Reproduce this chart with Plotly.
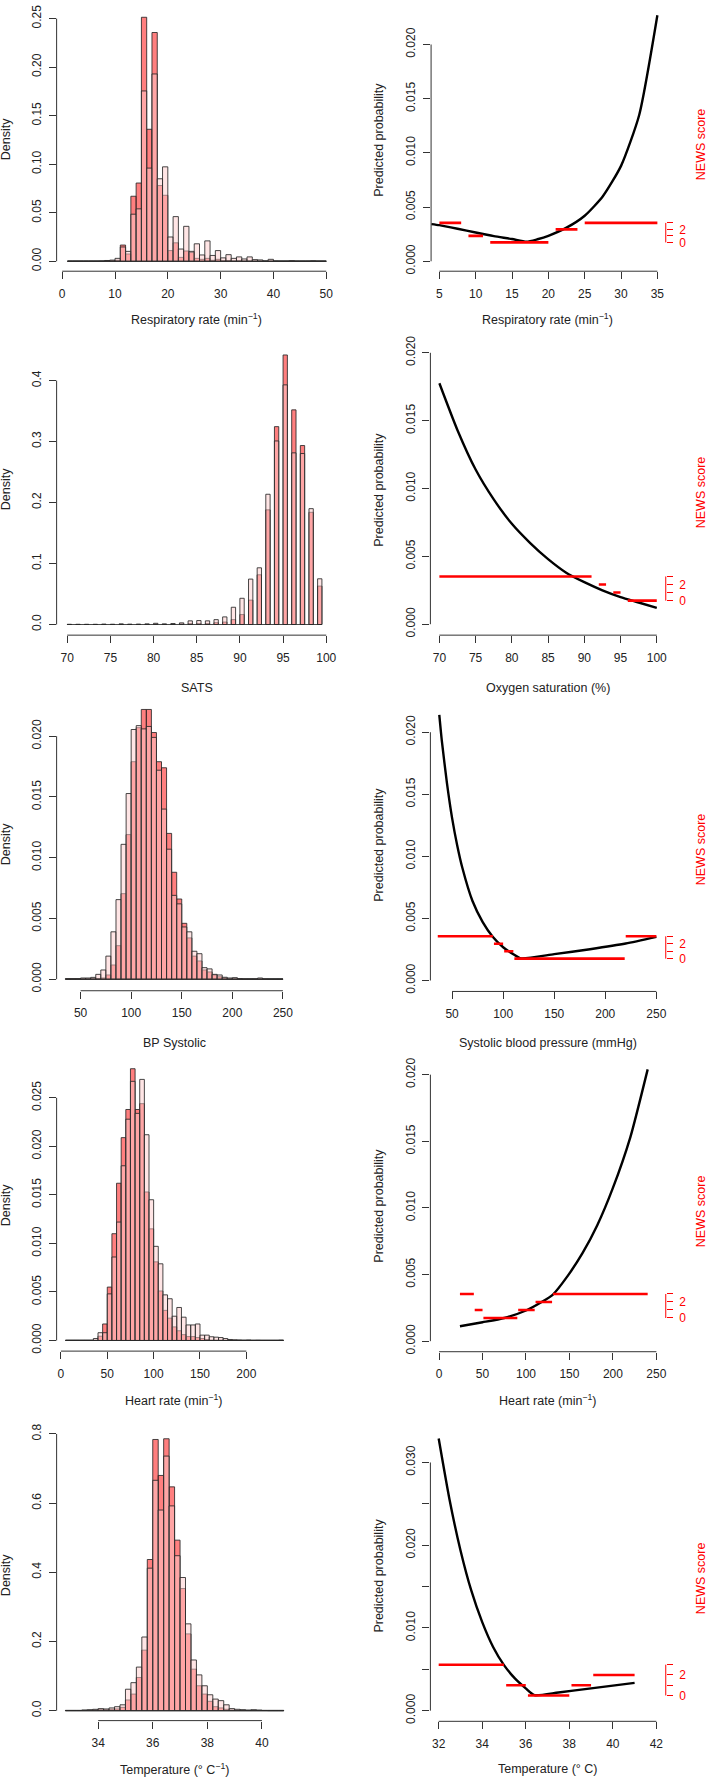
import plotly.graph_objects as go

W, H = 709, 1781

# ======================= DATA =======================
# --- Histograms (density); pale = first group, red = second group ---
RR_START, RR_W = 1, 1
RR_PALE = [0.0002, 0.0002, 0.0002, 0.0002, 0.0002, 0.0002, 0.0003, 0.0008, 0.0012, 0.003,
           0.0147, 0.0102, 0.0485, 0.054, 0.1755, 0.096, 0.193, 0.085, 0.0973, 0.025,
           0.046, 0.0126, 0.036, 0.0102, 0.018, 0.0065, 0.021, 0.006, 0.011, 0.0035,
           0.0068, 0.003, 0.0045, 0.0024, 0.0045, 0.0017, 0.0014, 0.0003, 0.002, 0.0003,
           0.0002, 0.0002, 0.0006, 0.0002, 0.0002, 0.0002, 0.0005, 0.0002, 0.0002]
RR_RED = [0.0001, 0.0001, 0.0001, 0.0001, 0.0001, 0.0001, 0.0001, 0.0003, 0.0006, 0.001,
          0.0167, 0.0075, 0.067, 0.0806, 0.2514, 0.136, 0.2357, 0.078, 0.068, 0.011,
          0.019, 0.004, 0.0106, 0.009, 0.003, 0.002, 0.003, 0.001, 0.002, 0.0005,
          0.0008, 0.0003, 0.0005, 0.0002, 0.0003, 0.0002, 0.0001, 0.0001, 0.0002, 0.0001,
          0.0001, 0.0001, 0.0001, 0.0001, 0.0001, 0.0001, 0.0001, 0.0001, 0.0001]

SATS_START, SATS_W = 70.5, 1   # bars cover (v-0.5, v] for v = 71..100
SATS_BAR_W = 0.5
SATS_PALE = [0.0003, 0.0003, 0.0003, 0.0003, 0.0006, 0.0004, 0.001, 0.0005, 0.0006, 0.001,
             0.002, 0.001, 0.0016, 0.0027, 0.006, 0.0065, 0.006, 0.008, 0.0125, 0.0283,
             0.043, 0.0745, 0.093, 0.2136, 0.301, 0.393, 0.2815, 0.2804, 0.19, 0.075]
SATS_RED = [0.0001, 0.0001, 0.0001, 0.0001, 0.0002, 0.0001, 0.0003, 0.0002, 0.0002, 0.0003,
            0.0005, 0.0003, 0.0005, 0.001, 0.0015, 0.0015, 0.0015, 0.003, 0.004, 0.008,
            0.0163, 0.040, 0.0815, 0.188, 0.3245, 0.442, 0.352, 0.2935, 0.184, 0.063]

SBP_START, SBP_W = 35, 5
SBP_PALE = [0.00005, 0.00005, 0.00005, 0.0001, 0.0001, 0.00015, 0.0004, 0.00076, 0.0019, 0.0039,
            0.00655, 0.0111, 0.01528, 0.02055, 0.02087, 0.0206, 0.0208, 0.0199, 0.0172, 0.014,
            0.0107, 0.0069, 0.0062, 0.0043, 0.0039, 0.0023, 0.0021, 0.00095, 0.00085, 0.0004,
            0.00035, 0.00016, 0.0001, 0.00013, 0.00005, 0.00003, 0.00003, 0.00003, 0.0001, 0.00003,
            0.00002, 0.00002, 0.00002]
SBP_RED = [0.00002, 0.00002, 0.00002, 0.00003, 0.00003, 0.00004, 0.00005, 0.0001, 0.00035, 0.00117,
           0.00276, 0.00704, 0.0119, 0.0179, 0.0207, 0.0222, 0.0222, 0.0203, 0.0179, 0.0174,
           0.012, 0.0088, 0.0066, 0.0046, 0.0034, 0.0019, 0.0015, 0.00076, 0.0006, 0.00035,
           0.0002, 0.0001, 0.00003, 0.00003, 0.00002, 0.00002, 0.00002, 0.00002, 0.00002, 0.00002,
           0.00002, 0.00002, 0.00002]

HR_START, HR_W = 5, 5
HR_PALE = [0.00003, 0.00003, 0.00003, 0.00003, 0.00003, 0.00003, 0.0002, 0.0008, 0.0008, 0.0048,
           0.0086, 0.0122, 0.018, 0.0228, 0.0267, 0.0234, 0.0269, 0.0212, 0.0145, 0.0097,
           0.0079, 0.0047, 0.0043, 0.0025, 0.0034, 0.0024, 0.0016, 0.0016, 0.0017, 0.00055,
           0.00055, 0.00038, 0.00034, 0.0003, 0.0002, 0.0001, 0.00007, 0.00005, 0.00003, 0.00005,
           0.00002, 0.00003, 0.00002, 0.00002, 0.00002, 0.00002, 0.00004]
HR_RED = [0.00002, 0.00002, 0.00002, 0.00002, 0.00002, 0.00002, 0.00002, 0.00044, 0.0017, 0.0055,
          0.011, 0.0162, 0.0209, 0.0238, 0.028, 0.0238, 0.0244, 0.0153, 0.0115, 0.0081,
          0.0051, 0.0031, 0.0023, 0.0014, 0.001, 0.0006, 0.0004, 0.0004, 0.0003, 0.0002,
          0.0001, 0.00003, 0.00003, 0.00003, 0.00002, 0.00002, 0.00002, 0.00002, 0.00002, 0.00002,
          0.00002, 0.00002, 0.00002, 0.00002, 0.00002, 0.00002, 0.00002]

TEMP_START, TEMP_W = 32.8, 0.2
TEMP_PALE = [0.001, 0.001, 0.001, 0.002, 0.003, 0.004, 0.006, 0.005, 0.008, 0.0115,
             0.017, 0.062, 0.081, 0.126, 0.213, 0.412, 0.666, 0.58, 0.736, 0.592,
             0.448, 0.385, 0.251, 0.1466, 0.1035, 0.072, 0.046, 0.0335, 0.029, 0.017,
             0.006, 0.004, 0.003, 0.002, 0.003, 0.002, 0.001, 0.001, 0.001, 0.001]
TEMP_RED = [0.0005, 0.0005, 0.0005, 0.001, 0.001, 0.002, 0.003, 0.003, 0.004, 0.005,
            0.0096, 0.031, 0.048, 0.096, 0.175, 0.437, 0.784, 0.68, 0.786, 0.647,
            0.493, 0.353, 0.222, 0.12, 0.072, 0.048, 0.027, 0.0115, 0.008, 0.004,
            0.002, 0.001, 0.001, 0.0005, 0.0005, 0.0005, 0.0005, 0.0003, 0.0003, 0.0003]

# --- Predicted probability curves (two branches meeting at the minimum) ---
RR_CURVE_X = [3.9, 5, 7.5, 10, 12.5, 15, 17, 18.5, 20, 22.5, 25, 27.5, 30, 32.5, 35]
RR_CURVE_P = [0.00343, 0.00333, 0.0030, 0.00265, 0.00232, 0.00205, 0.0018, 0.00203, 0.00235,
              0.0031, 0.0042, 0.0060, 0.0088, 0.0135, 0.0227]
SATS_CURVE_X = [70, 72.5, 75, 77.5, 80, 82.5, 85, 87.5, 90, 92.5, 95, 97.5, 100]
SATS_CURVE_P = [0.01776, 0.0143, 0.0114, 0.0092, 0.0074, 0.006, 0.0048, 0.0038, 0.0031,
                0.0025, 0.002, 0.0016, 0.0012]
SBP_CURVE_X = [37.5, 40, 45, 50, 55, 60, 70, 80, 90, 100, 110, 117.5, 150, 185, 220, 250]
SBP_CURVE_P = [0.0214, 0.0193, 0.0159, 0.0131, 0.0109, 0.0091, 0.0064, 0.0047, 0.0035,
               0.00268, 0.00212, 0.00178, 0.00212, 0.00252, 0.00298, 0.00352]
HR_CURVE_X = [24, 50, 75, 100, 117, 131, 148, 165, 182, 200, 220, 240]
HR_CURVE_P = [0.00112, 0.00142, 0.00174, 0.0023, 0.0029, 0.0035, 0.0049, 0.0066, 0.0087,
              0.0115, 0.0153, 0.0204]
TEMP_CURVE_X = [32, 32.5, 33, 33.5, 34, 34.5, 35, 35.5, 36, 36.4, 37.5, 39, 41]
TEMP_CURVE_P = [0.0329, 0.0255, 0.0194, 0.0145, 0.0107, 0.0077, 0.0055, 0.0039, 0.0027,
                0.00188, 0.0022, 0.0027, 0.00336]

# --- NEWS score bands ---
RR_NEWS_FROM = [5, 9, 12, 21, 25]
RR_NEWS_TO = [8, 11, 20, 24, 35]
RR_NEWS = [3, 1, 0, 2, 3]
SATS_NEWS_FROM = [70, 92, 94, 96]
SATS_NEWS_TO = [91, 93, 95, 100]
SATS_NEWS = [3, 2, 1, 0]
SBP_NEWS_FROM = [36, 91, 101, 111, 220]
SBP_NEWS_TO = [90, 100, 110, 219, 250]
SBP_NEWS = [3, 2, 1, 0, 3]
HR_NEWS_FROM = [24, 41, 51, 91, 111, 131]
HR_NEWS_TO = [40, 50, 90, 110, 130, 240]
HR_NEWS = [3, 1, 0, 1, 2, 3]
TEMP_NEWS_FROM = [32, 35.1, 36.1, 38.1, 39.1]
TEMP_NEWS_TO = [35, 36, 38, 39, 41]
TEMP_NEWS = [3, 1, 0, 1, 2]
NEWS_LABELLED = [0, 2]
NEWS_UNLABELLED = [1, 3]

# --- Labels ---
HIST_XLABELS = ["Respiratory rate (min<sup>−1</sup>)", "SATS", "BP Systolic",
                "Heart rate (min<sup>−1</sup>)", "Temperature (° C<sup>−1</sup>)"]
CURVE_XLABELS = ["Respiratory rate (min<sup>−1</sup>)", "Oxygen saturation (%)",
                 "Systolic blood pressure (mmHg)", "Heart rate (min<sup>−1</sup>)",
                 "Temperature (° C)"]

HIST_XTICKS = [[0, 10, 20, 30, 40, 50], [70, 75, 80, 85, 90, 95, 100], [50, 100, 150, 200, 250],
               [0, 50, 100, 150, 200], [34, 36, 38, 40]]
HIST_YTICKS = [[0, 0.05, 0.10, 0.15, 0.20, 0.25], [0, 0.1, 0.2, 0.3, 0.4],
               [0, 0.005, 0.010, 0.015, 0.020], [0, 0.005, 0.010, 0.015, 0.020, 0.025],
               [0, 0.2, 0.4, 0.6, 0.8]]
HIST_YFMT = ["{:.2f}", "{:.1f}", "{:.3f}", "{:.3f}", "{:.1f}"]
CURVE_XTICKS = [[5, 10, 15, 20, 25, 30, 35], [70, 75, 80, 85, 90, 95, 100],
                [50, 100, 150, 200, 250], [0, 50, 100, 150, 200, 250], [32, 34, 36, 38, 40, 42]]
CURVE_YTICKS = [[0, 0.005, 0.010, 0.015, 0.020]] * 4 + [[0, 0.010, 0.020, 0.030]]
CURVE_YMINOR = [[]] * 4 + [[0.005, 0.015, 0.025]]

# ======================= LAYOUT GEOMETRY (pixels) =======================
HIST_BOX = [(56.7, 337.3, 0.3, 265.7), (56.7, 337.3, 338, 631.7), (56.7, 293, 694, 989.3),
            (56.7, 292.5, 1058, 1351.7), (56.7, 293, 1430, 1723.3)]
HIST_XCAL = [(0, 62.3, 50, 326.7), (70, 67.3, 100, 326.7), (50, 80.7, 250, 283.3),
             (0, 61, 200, 246.7), (34, 98.3, 40, 262.3)]
HIST_YCAL = [(0, 255.7, 0.25, 11.7), (0, 621, 0.4, 375.7), (0, 977.7, 0.02, 733.3),
             (0, 1341, 0.025, 1097), (0, 1713.3, 0.8, 1435)]
CURVE_BOX = [(431.7, 666.7, 0.3, 265.7), (431, 666.7, 338, 631.7), (431, 666.7, 694, 990),
             (431, 666.7, 1058, 1352.3), (431, 666.7, 1430, 1724)]
CURVE_XCAL = [(5, 440, 35, 658.3), (70, 440, 100, 657.7), (50, 452.7, 250, 657.3),
              (0, 439.7, 250, 657.3), (32, 439.3, 42, 657.3)]
CURVE_YCAL = [(0, 255.7, 0.02, 37.7), (0, 620.7, 0.015, 416), (0, 979, 0.02, 729.3),
              (0, 1341.7, 0.015, 1140.7), (0, 1713.3, 0.03, 1463.7)]
NEWS_MAP = [(0.00174, 0.0006), (0.00174, 0.000593), (0.00176, 0.0006), (0.00174, 0.0006),
            (0.00184, 0.00124)]

YTITLE_Y = [133, 485, 842, 1205, 1577]
NEWS_TITLE_Y = [138, 488, 847, 1211, 1580]
XTITLE_Y = [314, 685, 1042, 1401, 1772]
HIST_XTITLE_X = [197, 197, 175, 174, 175]
CURVE_XTITLE_X = 548.5

FONT = "Liberation Sans, Arial, Helvetica, sans-serif"
AX = "#333333"
PALE = "rgba(255,204,204,0.5)"
REDF = "rgba(255,0,0,0.5)"
EDGE = "rgba(40,40,40,0.85)"


def rng(cal, p_lo, p_hi):
    v1, p1, v2, p2 = cal
    s = (v2 - v1) / (p2 - p1)
    return [v1 + (p_lo - p1) * s, v1 + (p_hi - p1) * s]


hist_sets = [
    (RR_START, RR_W, RR_W, RR_PALE, RR_RED),
    (SATS_START, SATS_W, SATS_BAR_W, SATS_PALE, SATS_RED),
    (SBP_START, SBP_W, SBP_W, SBP_PALE, SBP_RED),
    (HR_START, HR_W, HR_W, HR_PALE, HR_RED),
    (TEMP_START, TEMP_W, TEMP_W, TEMP_PALE, TEMP_RED),
]
curve_sets = [
    (RR_CURVE_X, RR_CURVE_P, RR_NEWS_FROM, RR_NEWS_TO, RR_NEWS),
    (SATS_CURVE_X, SATS_CURVE_P, SATS_NEWS_FROM, SATS_NEWS_TO, SATS_NEWS),
    (SBP_CURVE_X, SBP_CURVE_P, SBP_NEWS_FROM, SBP_NEWS_TO, SBP_NEWS),
    (HR_CURVE_X, HR_CURVE_P, HR_NEWS_FROM, HR_NEWS_TO, HR_NEWS),
    (TEMP_CURVE_X, TEMP_CURVE_P, TEMP_NEWS_FROM, TEMP_NEWS_TO, TEMP_NEWS),
]

fig = go.Figure()
layout = {}
shapes = []
annotations = []


def axname(n, kind):
    return f"{kind}axis" + ("" if n == 1 else str(n))


def ref(n, kind):
    return kind + ("" if n == 1 else str(n))


base_axis = dict(showgrid=False, zeroline=False, showline=False, ticks="outside",
                 ticklen=7, tickwidth=1, tickcolor=AX,
                 tickfont=dict(family=FONT, size=12, color="#222"))


def title_ann(text, x, y, angle=0, color="#222"):
    return dict(text=text, x=x / W, y=1 - y / H, xref="paper", yref="paper",
                textangle=angle, showarrow=False,
                font=dict(family=FONT, size=12.5, color=color),
                xanchor="center", yanchor="middle")


for r in range(5):
    # ---------------- histogram panel ----------------
    n = 2 * r + 1
    L, R, T, B = HIST_BOX[r]
    start, step, bw, pale, red = hist_sets[r]
    if r == 1:
        centers = [start + i * step - bw / 2 for i in range(len(pale))]
        left_edge = start - step + bw
        right_edge = start + (len(pale) - 1) * step
    else:
        centers = [start + i * step + bw / 2 for i in range(len(pale))]
        left_edge = start
        right_edge = start + len(pale) * step
    xr, yr = ref(n, "x"), ref(n, "y")
    fig.add_trace(go.Bar(x=centers, y=red, width=bw, xaxis=xr, yaxis=yr,
                         marker=dict(color=REDF, line=dict(color=EDGE, width=1)),
                         showlegend=False, hoverinfo="skip"))
    fig.add_trace(go.Bar(x=centers, y=pale, width=bw, xaxis=xr, yaxis=yr,
                         marker=dict(color=PALE, line=dict(color=EDGE, width=1)),
                         showlegend=False, hoverinfo="skip"))
    fig.add_trace(go.Scatter(x=[left_edge, right_edge], y=[0, 0], mode="lines",
                             line=dict(color=EDGE, width=1), xaxis=xr, yaxis=yr,
                             showlegend=False, hoverinfo="skip"))
    xt, yt = HIST_XTICKS[r], HIST_YTICKS[r]
    layout[axname(n, "x")] = dict(base_axis, domain=[L / W, R / W], anchor=yr,
                                  range=rng(HIST_XCAL[r], L, R), tickvals=xt,
                                  ticktext=[str(v) for v in xt], ticklabelstandoff=4)
    layout[axname(n, "y")] = dict(base_axis, domain=[1 - B / H, 1 - T / H], anchor=xr,
                                  range=rng(HIST_YCAL[r], B, T), tickvals=yt,
                                  ticktext=[HIST_YFMT[r].format(v) for v in yt],
                                  tickangle=-90, ticklabelstandoff=3)
    shapes.append(dict(type="line", xref=xr, yref=f"{yr} domain", x0=xt[0], x1=xt[-1],
                       y0=0, y1=0, line=dict(color=AX, width=1)))
    shapes.append(dict(type="line", xref=f"{xr} domain", yref=yr, x0=0, x1=0,
                       y0=yt[0], y1=yt[-1], line=dict(color=AX, width=1)))
    annotations.append(title_ann("Density", 6, YTITLE_Y[r], -90))
    annotations.append(title_ann(HIST_XLABELS[r], HIST_XTITLE_X[r], XTITLE_Y[r]))

    # ---------------- curve panel ----------------
    n = 2 * r + 2
    m = 10 + r + 1  # overlay axis for NEWS score
    L, R, T, B = CURVE_BOX[r]
    cx, cp, nf, nt, ns = curve_sets[r]
    xr, yr, yn = ref(n, "x"), ref(n, "y"), ref(m, "y")
    prange = rng(CURVE_YCAL[r], B, T)
    base, stp = NEWS_MAP[r]
    srange = [(prange[0] - base) / stp, (prange[1] - base) / stp]
    fig.add_trace(go.Scatter(x=cx, y=cp, mode="lines", xaxis=xr, yaxis=yr,
                             line=dict(color="black", width=2.4, shape="spline", smoothing=0.6),
                             showlegend=False, hoverinfo="skip"))
    segx, segy = [], []
    for a, b, s in zip(nf, nt, ns):
        segx += [a, b, None]
        segy += [s, s, None]
    fig.add_trace(go.Scatter(x=segx, y=segy, mode="lines", xaxis=xr, yaxis=yn,
                             line=dict(color="red", width=2.6), showlegend=False,
                             hoverinfo="skip", connectgaps=False))
    xt, yt = CURVE_XTICKS[r], CURVE_YTICKS[r]
    ymin = CURVE_YMINOR[r]
    yax = dict(base_axis, domain=[1 - B / H, 1 - T / H], anchor=xr,
               range=prange, tickvals=yt, ticktext=["{:.3f}".format(v) for v in yt],
               tickangle=-90, ticklabelstandoff=3)
    if ymin:
        yax["minor"] = dict(tickvals=ymin, ticks="outside", ticklen=7, tickwidth=1,
                            tickcolor=AX, showgrid=False)
    layout[axname(n, "x")] = dict(base_axis, domain=[L / W, R / W], anchor=yr,
                                  range=rng(CURVE_XCAL[r], L, R), tickvals=xt,
                                  ticktext=[str(v) for v in xt], ticklabelstandoff=4)
    layout[axname(n, "y")] = yax
    layout[axname(m, "y")] = dict(base_axis, overlaying=yr, anchor=xr, side="right",
                                  range=srange, tickvals=NEWS_LABELLED,
                                  ticktext=[str(v) for v in NEWS_LABELLED],
                                  tickcolor="red", ticklen=6,
                                  tickfont=dict(family=FONT, size=12, color="red"),
                                  ticklabelstandoff=4,
                                  minor=dict(tickvals=NEWS_UNLABELLED, ticks="outside",
                                             ticklen=6, tickwidth=1, tickcolor="red",
                                             showgrid=False))
    shapes.append(dict(type="line", xref=xr, yref=f"{yr} domain", x0=xt[0], x1=xt[-1],
                       y0=0, y1=0, line=dict(color=AX, width=1)))
    shapes.append(dict(type="line", xref=f"{xr} domain", yref=yr, x0=0, x1=0,
                       y0=0, y1=max(yt + ymin), line=dict(color=AX, width=1)))
    shapes.append(dict(type="line", xref=f"{xr} domain", yref=yn, x0=1, x1=1,
                       y0=min(NEWS_LABELLED + NEWS_UNLABELLED),
                       y1=max(NEWS_LABELLED + NEWS_UNLABELLED),
                       line=dict(color="red", width=1)))
    annotations.append(title_ann("Predicted probability", 380, YTITLE_Y[r], -90))
    annotations.append(title_ann("NEWS score", 702, NEWS_TITLE_Y[r], -90, "red"))
    annotations.append(title_ann(CURVE_XLABELS[r], CURVE_XTITLE_X, XTITLE_Y[r]))

fig.update_layout(**layout)
fig.update_layout(width=W, height=H, autosize=False, margin=dict(l=0, r=0, t=0, b=0),
                  paper_bgcolor="white", plot_bgcolor="white", barmode="overlay",
                  bargap=0, shapes=shapes, annotations=annotations,
                  font=dict(family=FONT, size=12, color="#222"))
fig.write_html("out.html", config={"displayModeBar": False, "staticPlot": True},
               post_script="document.body.style.margin='0';document.body.style.padding='0';"
                           "document.body.style.overflow='hidden';")
